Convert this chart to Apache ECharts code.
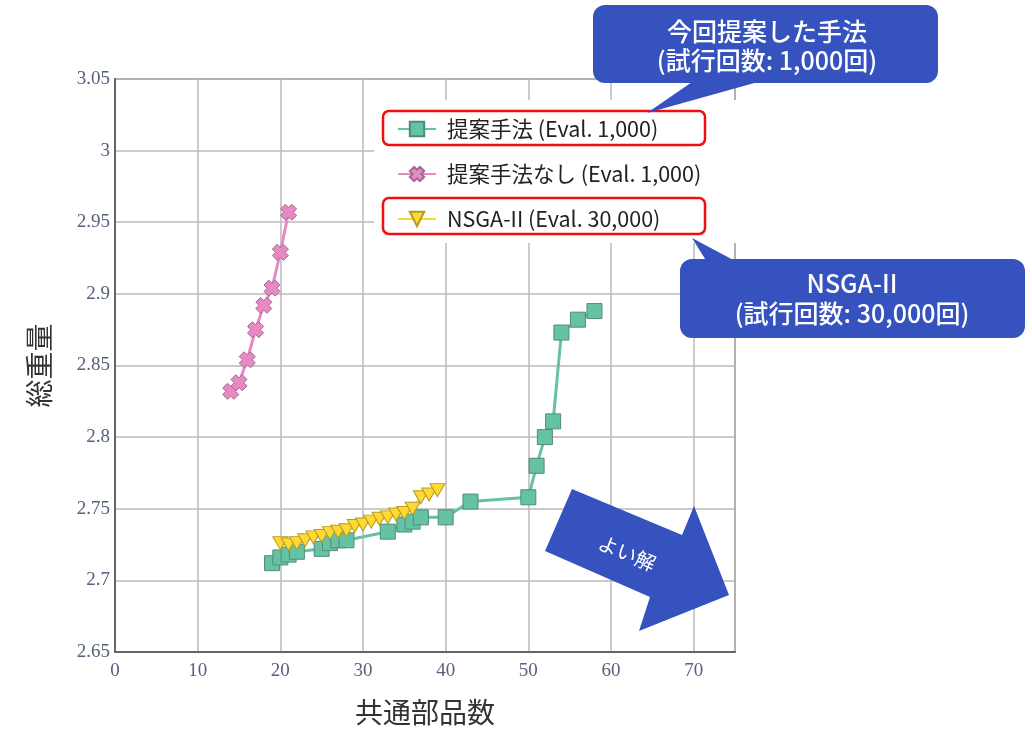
<!DOCTYPE html>
<html>
<head>
<meta charset="utf-8">
<script src="https://cdn.jsdelivr.net/npm/echarts@6/dist/echarts.min.js"></script>
<style>
html,body{margin:0;padding:0;background:#fff;}
#main{width:1032px;height:731px;}
</style>
</head>
<body>
<div id="main"></div>
<script>
// 提案手法 (Eval. 1,000)
var propX = [19, 20, 21, 22, 25, 26, 27, 28, 33, 35, 36, 37, 40, 43, 50, 51, 52, 53, 54, 56, 58];
var propY = [2.712, 2.716, 2.718, 2.720, 2.722, 2.726, 2.728, 2.728, 2.734, 2.739, 2.741, 2.744, 2.744, 2.755, 2.758, 2.780, 2.800, 2.811, 2.873, 2.882, 2.888];
// 提案手法なし (Eval. 1,000)
var noneX = [14, 15, 16, 17, 18, 19, 20, 21];
var noneY = [2.832, 2.838, 2.854, 2.875, 2.892, 2.904, 2.929, 2.957];
// NSGA-II (Eval. 30,000)
var nsgaX = [20, 21, 22, 23, 24, 25, 26, 27, 28, 29, 30, 31, 32, 33, 34, 35, 36, 37, 38, 39];
var nsgaY = [2.726, 2.725, 2.726, 2.728, 2.730, 2.731, 2.733, 2.734, 2.735, 2.738, 2.739, 2.741, 2.743, 2.744, 2.746, 2.747, 2.750, 2.758, 2.760, 2.763];

var seriesNames = ['提案手法 (Eval. 1,000)', '提案手法なし (Eval. 1,000)', 'NSGA-II (Eval. 30,000)'];

function pairs(xs, ys) {
	var out = [];
	for (var i = 0; i < xs.length; i++) out.push([xs[i], ys[i]]);
	return out;
}

var crossPath = 'path://M0,3 L3,0 L5,2 L7,0 L10,3 L8,5 L10,7 L7,10 L5,8 L3,10 L0,7 L2,5 Z';
var blue = '#3552bf';
var cjk = '"Noto Sans CJK JP", "Noto Sans", sans-serif';

var myChart = echarts.init(document.getElementById('main'));

var option = {
    animation: false,
    grid: {
        left: 115,
        right: 297,
        top: 79,
        bottom: 76,
        show: true,
        borderColor: '#777',
        borderWidth: 1.5
    },
    legend: {
        data: seriesNames,
        orient: 'vertical',
        left: 374,
        top: 100,
        padding: [17, 50, 12, 23],
        backgroundColor: '#fff',
        itemWidth: 38,
        itemHeight: 18,
        itemGap: 21,
        textStyle: {
            fontFamily: cjk,
            fontSize: 21.5,
            color: '#222',
            lineHeight: 24,
            padding: [0, 0, 0, 6]
        }
    },
    xAxis: {
        type: 'value',
        min: 0,
        max: 75,
        interval: 10,
        name: '共通部品数',
        nameLocation: 'middle',
        nameGap: 46,
        nameTextStyle: { fontFamily: cjk, fontSize: 28, color: '#333' },
        axisLine: { show: true, lineStyle: { color: '#666', width: 2 } },
        axisTick: { show: false },
        axisLabel: {
            showMaxLabel: false,
            fontFamily: '"Liberation Serif", serif',
            fontSize: 19,
            color: '#56617c',
            margin: 10
        },
        splitLine: { lineStyle: { color: '#bababa', width: 1.5 } }
    },
    yAxis: {
        type: 'value',
        min: 2.65,
        max: 3.05,
        interval: 0.05,
        name: '総重量',
        nameLocation: 'middle',
        nameGap: 62,
        nameTextStyle: { fontFamily: cjk, fontSize: 28, color: '#333' },
        axisLine: { show: true, lineStyle: { color: '#666', width: 2 } },
        axisTick: { show: false },
        axisLabel: {
            fontFamily: '"Liberation Serif", serif',
            fontSize: 19,
            color: '#56617c',
            margin: 5
        },
        splitLine: { lineStyle: { color: '#bababa', width: 1.5 } }
    },
    series: [
        {
            name: seriesNames[0],
            type: 'line',
            data: pairs(propX, propY),
            symbol: 'rect',
            symbolSize: 15,
            lineStyle: { color: '#66c2a5', width: 3 },
            itemStyle: { color: '#66c2a5', borderColor: '#4f8c77', borderWidth: 1 },
            z: 2
        },
        {
            name: seriesNames[1],
            type: 'line',
            data: pairs(noneX, noneY),
            symbol: crossPath,
            symbolSize: 16,
            lineStyle: { color: '#e78ac3', width: 3 },
            itemStyle: { color: '#e78ac3', borderColor: '#a06a8a', borderWidth: 1 },
            z: 3
        },
        {
            name: seriesNames[2],
            type: 'line',
            data: pairs(nsgaX, nsgaY),
            symbol: 'triangle',
            symbolRotate: 180,
            symbolSize: [15, 13],
            lineStyle: { color: '#ffd92f', width: 3 },
            itemStyle: { color: '#ffd92f', borderColor: '#b59a2a', borderWidth: 1 },
            z: 4
        }
    ],
    graphic: [
        // red highlight boxes on the legend
        {
            type: 'rect', z: 100,
            shape: { x: 383, y: 111, width: 322, height: 34, r: 6 },
            style: { fill: 'none', stroke: '#f01010', lineWidth: 2.5 }
        },
        {
            type: 'rect', z: 100,
            shape: { x: 383, y: 198, width: 322, height: 36, r: 6 },
            style: { fill: 'none', stroke: '#f01010', lineWidth: 2.5 }
        },
        // callout 1
        {
            type: 'polygon', z: 100,
            shape: { points: [[695, 80], [765, 80], [647, 113]] },
            style: { fill: blue }
        },
        {
            type: 'rect', z: 100,
            shape: { x: 593, y: 5, width: 345, height: 78, r: 12 },
            style: { fill: blue }
        },
        {
            type: 'text', z: 101,
            style: {
                x: 767, y: 46,
                text: '今回提案した手法\n(試行回数: 1,000回)',
                fill: '#fff', font: '500 25px ' + cjk,
                align: 'center', verticalAlign: 'middle', lineHeight: 29
            }
        },
        // callout 2
        {
            type: 'polygon', z: 100,
            shape: { points: [[707, 262], [737, 262], [692, 238]] },
            style: { fill: blue }
        },
        {
            type: 'rect', z: 100,
            shape: { x: 680, y: 259, width: 345, height: 79, r: 12 },
            style: { fill: blue }
        },
        {
            type: 'text', z: 101,
            style: {
                x: 852, y: 298,
                text: 'NSGA-II\n(試行回数: 30,000回)',
                fill: '#fff', font: '500 25px ' + cjk,
                align: 'center', verticalAlign: 'middle', lineHeight: 30
            }
        },
        // よい解 arrow
        {
            type: 'polygon', z: 100,
            shape: { points: [[572, 489], [682, 535], [694, 506], [729, 595], [639, 631], [650, 597], [545, 551]] },
            style: { fill: blue }
        },
        {
            type: 'text', z: 101,
            x: 627, y: 553,
            rotation: -0.40,
            style: {
                x: 0, y: 0,
                text: 'よい解',
                fill: '#fff', font: '20px ' + cjk,
                align: 'center', verticalAlign: 'middle'
            }
        }
    ]
};

myChart.setOption(option);
</script>
</body>
</html>
